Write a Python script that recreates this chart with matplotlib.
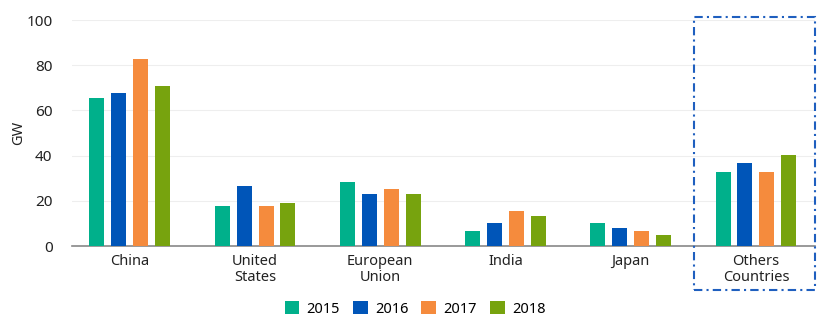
import matplotlib.pyplot as plt
import numpy as np
from matplotlib.patches import Rectangle

plt.rcParams['font.family'] = ['Noto Sans', 'DejaVu Sans']

# Datos del gráfico
categories = ['China', 'United\nStates', 'European\nUnion', 'India', 'Japan', 'Others\nCountries']
years = ['2015', '2016', '2017', '2018']
v2015 = [65.3, 17.8, 28.2, 6.6, 10.2, 32.6]
v2016 = [67.7, 26.7, 22.9, 10.2, 8.1, 36.7]
v2017 = [82.9, 17.8, 25.1, 15.5, 6.6, 32.6]
v2018 = [70.9, 19.0, 22.9, 13.3, 5.0, 40.1]
colors = ['#00B08B', '#0055B8', '#F58B3D', '#77A30E']

fig = plt.figure(figsize=(8.3, 3.32), dpi=100)
ax = fig.add_axes([72 / 830, 1 - 246 / 332, (815 - 72) / 830, 226 / 332])

x = np.arange(len(categories))
width = 0.12
step = 0.175
series = [v2015, v2016, v2017, v2018]
for i, (vals, col, yr) in enumerate(zip(series, colors, years)):
    ax.bar(x + (i - 1.5) * step, vals, width, color=col, label=yr, zorder=3)

ax.set_xlim(-0.462, 5.472)
ax.set_ylim(0, 100)
ax.set_yticks([0, 20, 40, 60, 80, 100])
ax.set_xticks(x)
ax.set_xticklabels(categories, fontsize=10.5, color='#222222', linespacing=1.1)
ax.tick_params(axis='both', length=0, labelsize=11, colors='#222222')
ax.tick_params(axis='x', pad=6, labelsize=10.5)
ax.tick_params(axis='y', pad=14)
ax.set_ylabel('GW', fontsize=10.5, color='#222222', labelpad=0, fontweight='semibold')

ax.grid(axis='y', color='#EEEEEE', linewidth=0.8, zorder=0)
for s in ['top', 'right', 'left']:
    ax.spines[s].set_visible(False)
ax.spines['bottom'].set_color('#888888')
ax.spines['bottom'].set_linewidth(1.2)

# Recuadro punteado alrededor de "Others Countries"
box = Rectangle((694 / 830, 1 - 290 / 332), (815 - 694) / 830, (290 - 16.5) / 332,
                transform=fig.transFigure, fill=False, edgecolor='#1F5FBF',
                linewidth=1.5, linestyle=(0, (4, 2, 1, 2)))
fig.patches.append(box)

fig.legend(loc='center', bbox_to_anchor=(0.5, 1 - 309 / 332), ncol=4, frameon=False,
           fontsize=10.5, handlelength=1.0, handleheight=1.0, handletextpad=0.5,
           columnspacing=0.9)

fig.savefig('out.png', dpi=100)
